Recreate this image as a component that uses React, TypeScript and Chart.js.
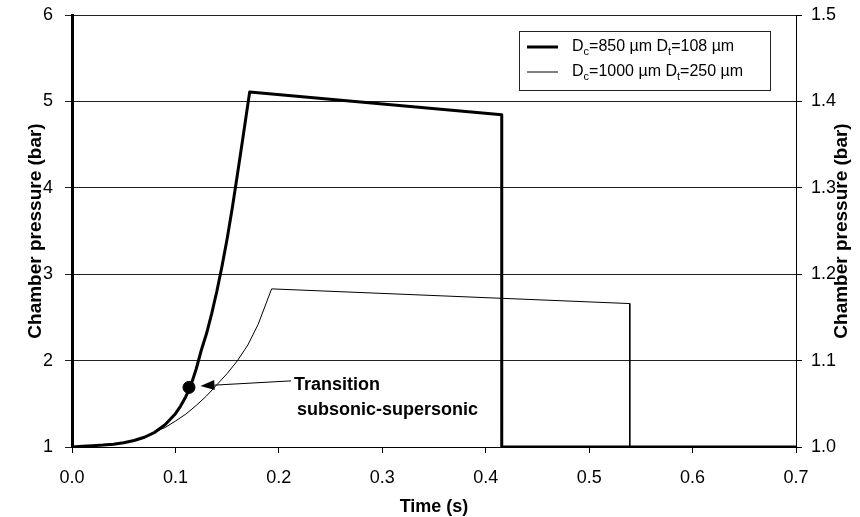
import React, { useEffect, useRef } from "react";
import { Chart, registerables } from "chart.js";

Chart.register(...registerables);

// ---- Data ----
const timeThick = [0, 0.01, 0.02, 0.03, 0.04, 0.05, 0.06, 0.07, 0.08, 0.09, 0.1, 0.105, 0.11, 0.115, 0.12, 0.125, 0.13, 0.135, 0.14, 0.145, 0.15, 0.155, 0.16, 0.165, 0.1718, 0.4155, 0.4155, 0.7];
const pressureThick = [1, 1.008, 1.015, 1.022, 1.033, 1.05, 1.075, 1.113, 1.17, 1.257, 1.386, 1.474, 1.582, 1.714, 1.9, 2.12, 2.31, 2.54, 2.8, 3.09, 3.41, 3.77, 4.16, 4.56, 5.11, 4.845, 1.0, 1.0];

const timeThin = [0, 0.02, 0.04, 0.06, 0.07, 0.08, 0.085, 0.09, 0.1, 0.11, 0.12, 0.13, 0.14, 0.15, 0.16, 0.17, 0.18, 0.193, 0.5393, 0.5393, 0.7];
const pressureThin = [1.0, 1.0015, 1.0033, 1.0075, 1.0113, 1.017, 1.02, 1.0225, 1.03, 1.038, 1.048, 1.059, 1.072, 1.085, 1.1, 1.118, 1.142, 1.183, 1.166, 1.0, 1.0];

const transitionTime = [0.1131];
const transitionPressure = [1.69];

const xTickValues = [0, 0.1, 0.2, 0.3, 0.4, 0.5, 0.6, 0.7];
const yLeftTicks = [1, 2, 3, 4, 5, 6];
const yRightTicks = [1.0, 1.1, 1.2, 1.3, 1.4, 1.5];

const seriesLabels = ["Dc=850 µm Dt=108 µm", "Dc=1000 µm Dt=250 µm"];
// legend label pieces: [text, isSubscript]
const legendParts: [string, boolean][][] = [
  [["D", false], ["c", true], ["=850 µm D", false], ["t", true], ["=108 µm", false]],
  [["D", false], ["c", true], ["=1000 µm D", false], ["t", true], ["=250 µm", false]],
];
const legendWidths = [3, 1];

const annotationLines = ["Transition", "subsonic-supersonic"];
const xTitle = "Time (s)";
const yTitle = "Chamber pressure (bar)";

const FONT = "'Liberation Sans', Arial, Helvetica, sans-serif";

const toXY = (xs: number[], ys: number[]) => xs.map((x, i) => ({ x, y: ys[i] }));

const overlayPlugin = {
  id: "overlay",
  afterDatasetsDraw(chart: any) {
    const ctx = chart.ctx;
    const xs = chart.scales.x;
    const ys = chart.scales.y;
    // annotation arrow
    const dx = xs.getPixelForValue(transitionTime[0]);
    const dy = ys.getPixelForValue(transitionPressure[0]);
    const tipX = dx + 11.5;
    const tipY = dy - 1.5;
    const tailX = dx + 102;
    const tailY = dy - 6.5;
    const ang = Math.atan2(tailY - tipY, tailX - tipX);
    const headLen = 14;
    const headW = 5;
    ctx.save();
    ctx.strokeStyle = "#000";
    ctx.fillStyle = "#000";
    ctx.lineWidth = 1;
    ctx.beginPath();
    ctx.moveTo(tailX, tailY);
    ctx.lineTo(tipX + Math.cos(ang) * headLen, tipY + Math.sin(ang) * headLen);
    ctx.stroke();
    ctx.beginPath();
    ctx.moveTo(tipX, tipY);
    const bx = tipX + Math.cos(ang) * headLen;
    const by = tipY + Math.sin(ang) * headLen;
    ctx.lineTo(bx - Math.sin(ang) * headW, by + Math.cos(ang) * headW);
    ctx.lineTo(bx + Math.sin(ang) * headW, by - Math.cos(ang) * headW);
    ctx.closePath();
    ctx.fill();
    // annotation text
    ctx.font = `bold 18px ${FONT}`;
    ctx.textAlign = "left";
    ctx.textBaseline = "middle";
    ctx.fillText(annotationLines[0], dx + 105, dy - 2);
    ctx.fillText(annotationLines[1], dx + 108, dy + 23);
    ctx.restore();
  },
  afterDraw(chart: any) {
    const ctx = chart.ctx;
    const area = chart.chartArea;
    ctx.save();
    // right axis title
    ctx.font = `bold 19px ${FONT}`;
    ctx.fillStyle = "#000";
    ctx.textAlign = "center";
    ctx.textBaseline = "middle";
    ctx.translate(842, (area.top + area.bottom) / 2);
    ctx.rotate(-Math.PI / 2);
    ctx.fillText(yTitle, 0, 0);
    ctx.restore();

    // legend
    ctx.save();
    const bx = 519.5, by = 31.5, bw = 251, bh = 59;
    ctx.fillStyle = "#fff";
    ctx.fillRect(bx, by, bw, bh);
    ctx.strokeStyle = "#222";
    ctx.lineWidth = 1;
    ctx.strokeRect(bx, by, bw, bh);
    const rows = [47, 72];
    legendParts.forEach((parts, i) => {
      const ry = rows[i];
      ctx.strokeStyle = "#000";
      ctx.lineWidth = legendWidths[i];
      ctx.beginPath();
      ctx.moveTo(527, ry);
      ctx.lineTo(558, ry);
      ctx.stroke();
      let x = 572;
      ctx.fillStyle = "#000";
      ctx.textAlign = "left";
      ctx.textBaseline = "middle";
      parts.forEach(([txt, sub]) => {
        if (sub) {
          ctx.font = `11px ${FONT}`;
          ctx.fillText(txt, x, ry + 5);
        } else {
          ctx.font = `16px ${FONT}`;
          ctx.fillText(txt, x, ry);
        }
        x += ctx.measureText(txt).width;
      });
    });
    ctx.restore();
  },
};

export default function App() {
  const ref = useRef<HTMLCanvasElement | null>(null);
  useEffect(() => {
    if (!ref.current) return;
    Chart.defaults.font.family = FONT;
    Chart.defaults.color = "#000";
    const chart = new Chart(ref.current, {
      type: "line",
      data: {
        datasets: [
          {
            label: seriesLabels[0],
            data: toXY(timeThick, pressureThick),
            yAxisID: "y",
            borderColor: "#000",
            borderWidth: 3,
            pointRadius: 0,
            tension: 0,
            borderJoinStyle: "round",
            fill: false,
          },
          {
            label: seriesLabels[1],
            data: toXY(timeThin, pressureThin),
            yAxisID: "y2",
            borderColor: "#000",
            borderWidth: 1,
            pointRadius: 0,
            tension: 0,
            fill: false,
          },
          {
            label: "Transition",
            type: "scatter",
            data: toXY(transitionTime, transitionPressure),
            yAxisID: "y",
            backgroundColor: "#000",
            borderColor: "#000",
            pointRadius: 6,
            showLine: false,
          },
        ] as any,
      },
      options: {
        responsive: false,
        animation: false,
        devicePixelRatio: 1,
        layout: { padding: { top: 15, left: 0, right: 0, bottom: 0 } },
        plugins: { legend: { display: false }, tooltip: { enabled: false } },
        scales: {
          x: {
            type: "linear",
            min: 0,
            max: 0.7,
            afterBuildTicks: (s: any) => {
              s.ticks = xTickValues.map((v) => ({ value: v }));
            },
            afterFit: (s: any) => {
              s.height = 70;
              s.paddingLeft = 0;
              s.paddingRight = 0;
            },
            ticks: {
              font: { size: 18 },
              color: "#000",
              padding: 14,
              maxRotation: 0,
              autoSkip: false,
              callback: (v: any) => Number(v).toFixed(1),
            },
            grid: { drawOnChartArea: false, drawTicks: true, tickLength: 6, color: "#000" },
            border: { color: "#000", width: 1 },
            title: {
              display: true,
              text: xTitle,
              font: { size: 18, weight: "bold" },
              color: "#000",
              padding: { top: 0, bottom: -1 },
            },
          },
          y: {
            type: "linear",
            position: "left",
            min: 1,
            max: 6,
            afterBuildTicks: (s: any) => {
              s.ticks = yLeftTicks.map((v) => ({ value: v }));
            },
            afterFit: (s: any) => {
              s.width = 72;
              s.paddingTop = 0;
              s.paddingBottom = 0;
            },
            ticks: {
              font: { size: 18 },
              color: "#000",
              padding: 12,
              callback: (v: any) => String(v),
            },
            grid: { drawOnChartArea: true, drawTicks: true, tickLength: 7, color: "#222", lineWidth: 1 },
            border: { color: "#000", width: 3 },
            title: {
              display: true,
              text: yTitle,
              font: { size: 19, weight: "bold" },
              color: "#000",
              padding: { top: 24, bottom: 0 },
            },
          },
          y2: {
            type: "linear",
            position: "right",
            min: 1.0,
            max: 1.5,
            afterBuildTicks: (s: any) => {
              s.ticks = yRightTicks.map((v) => ({ value: v }));
            },
            afterFit: (s: any) => {
              s.width = 64;
              s.paddingTop = 0;
              s.paddingBottom = 0;
            },
            ticks: {
              font: { size: 18 },
              color: "#000",
              padding: 9,
              callback: (v: any) => Number(v).toFixed(1),
            },
            grid: { drawOnChartArea: false, drawTicks: true, tickLength: 6, color: "#000" },
            border: { color: "#000", width: 1 },
          },
        },
      } as any,
      plugins: [overlayPlugin],
    });
    return () => chart.destroy();
  }, []);
  return (
    <div style={{ position: "fixed", left: 0, top: 0, width: 860, height: 517, background: "#fff" }}>
      <canvas ref={ref} width={860} height={517} style={{ display: "block" }} />
    </div>
  );
}
